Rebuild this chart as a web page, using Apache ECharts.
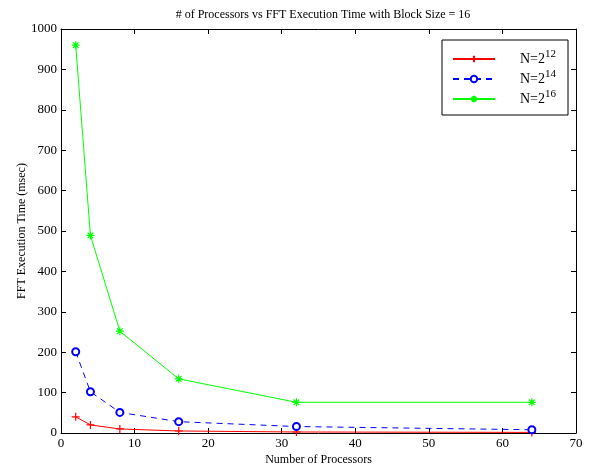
<!DOCTYPE html>
<html><head><meta charset="utf-8">
<script src="https://cdn.jsdelivr.net/npm/echarts@6/dist/echarts.min.js"></script>
<style>html,body{margin:0;padding:0;background:#fff}#c{width:590px;height:471px}</style>
</head><body><div id="c"></div>
<script>
var processors = [2, 4, 8, 16, 32, 64];
var timeN12 = [40, 20, 10, 5, 2.5, 1.5];
var timeN14 = [201, 102, 51, 28, 16, 8];
var timeN16 = [960, 489, 252, 134, 76, 76];
var seriesNames = ['N=2^12', 'N=2^14', 'N=2^16'];
var xTicks = [0, 10, 20, 30, 40, 50, 60, 70];
var yTicks = [0, 100, 200, 300, 400, 500, 600, 700, 800, 900, 1000];

var font = 'Liberation Serif';
var chart = echarts.init(document.getElementById('c'));
function pairs(v){ return processors.map(function(x,i){return [x, v[i]];}); }
var plusPath = 'path://M0,-5L0,5M-5,0L5,0';
var starPath = 'path://M0,-5L0,5M-5,0L5,0M-3.5,-3.5L3.5,3.5M-3.5,3.5L3.5,-3.5';
function common(){
  return {
    axisLine: {show: true, onZero: false, lineStyle: {color: '#000', width: 1}},
    axisTick: {show: true, inside: true, length: 5, lineStyle: {color: '#000'}},
    splitLine: {show: false}
  };
}
chart.setOption({
  animation: false,
  title: {text: '# of Processors vs FFT Execution Time with Block Size = 16', left: 318, top: 4, textAlign: 'center',
    textStyle: {fontFamily: font, fontSize: 12, fontWeight: 'normal', color: '#000'}},
  grid: {left: 61, right: 14, top: 29, bottom: 37},
  legend: {
    right: 22, top: 40, orient: 'vertical', itemWidth: 42, itemHeight: 8, itemGap: 3,
    padding: [9, 12, 9, 10], borderColor: '#000', borderWidth: 1, backgroundColor: '#fff',
    data: seriesNames,
    formatter: function(n){ var p = n.split('^'); return '{b|' + p[0] + '}{s|' + p[1] + '}'; },
    textStyle: {fontFamily: font, fontSize: 14, color: '#000', padding: [0,0,0,20],
      rich: {b: {fontFamily: font, fontSize: 14, color: '#000'}, s: {fontFamily: font, fontSize: 11, color: '#000', padding: [0,0,9,0]}}}
  },
  xAxis: [
    Object.assign({type: 'value', position: 'bottom', min: 0, max: 70, interval: 10, name: 'Number of Processors', nameLocation: 'middle', nameGap: 21,
      nameMoveOverlap: false,
      nameTextStyle: {fontFamily: font, fontSize: 12, color: '#000'},
      axisLabel: {fontFamily: font, fontSize: 13, color: '#000', margin: 4}}, common()),
    Object.assign({type: 'value', min: 0, max: 70, interval: 10, position: 'top', axisLabel: {show: false}}, common())
  ],
  yAxis: [
    Object.assign({type: 'value', position: 'left', min: 0, max: 1000, interval: 100, name: 'FFT Execution Time (msec)', nameLocation: 'middle', nameGap: 33,
      nameMoveOverlap: false,
      nameTextStyle: {fontFamily: font, fontSize: 12, color: '#000'},
      axisLabel: {fontFamily: font, fontSize: 13, color: '#000', margin: 4, formatter: function(v){return String(v);}}}, common()),
    Object.assign({type: 'value', min: 0, max: 1000, interval: 100, position: 'right', axisLabel: {show: false}}, common())
  ],
  series: [
    {name: seriesNames[0], type: 'line', data: pairs(timeN12), symbol: plusPath, symbolSize: 8,
      lineStyle: {color: '#ff0000', width: 1}, itemStyle: {color: '#ff0000', borderColor: '#ff0000', borderWidth: 1.2}},
    {name: seriesNames[1], type: 'line', data: pairs(timeN14), symbol: 'emptyCircle', symbolSize: 7,
      lineStyle: {color: '#0000ff', width: 1, type: [6, 5]}, itemStyle: {color: '#0000ff', borderColor: '#0000ff', borderWidth: 1}},
    {name: seriesNames[2], type: 'line', data: pairs(timeN16), symbol: starPath, symbolSize: 8,
      lineStyle: {color: '#00ff00', width: 1}, itemStyle: {color: '#00ff00', borderColor: '#00ff00', borderWidth: 1.2}}
  ]
});
</script></body></html>
